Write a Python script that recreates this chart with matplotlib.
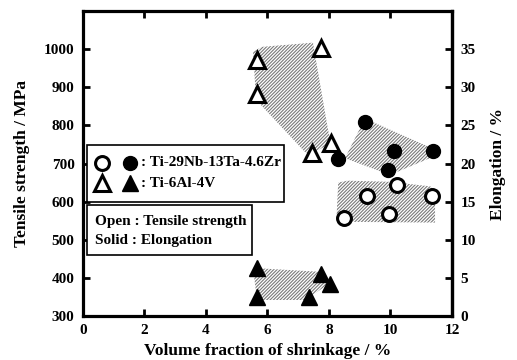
import numpy as np
import matplotlib
matplotlib.use("Agg")
import matplotlib.pyplot as plt
from matplotlib.patches import Polygon, Rectangle

plt.rcParams['font.family'] = ['Liberation Serif', 'DejaVu Serif']
plt.rcParams['font.weight'] = 'bold'
plt.rcParams['hatch.linewidth'] = 0.8

# Ti-29Nb-13Ta-4.6Zr
tntz_vf_ts = [8.5, 9.25, 9.95, 10.2, 11.35]
tntz_ts = [557, 615, 568, 644, 615]
tntz_vf_el = [8.3, 9.17, 9.92, 10.1, 11.38]
tntz_el = [20.6, 25.4, 19.1, 21.6, 21.6]

# Ti-6Al-4V
ti64_vf_ts = [5.66, 5.66, 7.45, 7.74, 8.06]
ti64_ts = [972, 883, 728, 1003, 754]
ti64_vf_el = [5.66, 5.66, 7.35, 7.74, 8.03]
ti64_el = [6.3, 2.5, 2.5, 5.5, 4.2]

# shaded scatter bands (volume fraction, value)
band_ti64_ts = [(5.53, 993), (5.82, 1006), (7.48, 1017), (7.97, 788), (8.07, 754),
                (7.38, 723), (7.22, 730), (5.63, 867)]
band_tntz_ts = [(8.3, 650), (8.6, 655), (10.0, 652), (11.3, 640), (11.45, 625),
                (11.45, 545), (8.5, 547), (8.25, 565)]
band_tntz_el = [(9.17, 25.9), (11.35, 22.0), (11.28, 20.7), (9.98, 18.5), (8.52, 20.7)]
band_ti64_el = [(5.53, 6.3), (7.71, 5.8), (8.03, 4.3), (7.22, 2.1), (5.66, 2.1)]


def el_to_ts(e):
    return np.asarray(e) * 20 + 300


def ts_to_el(t):
    return (np.asarray(t) - 300) / 20


fig = plt.figure(figsize=(5.17, 3.6), dpi=100)
ax = fig.add_axes([0.1605, 0.1222, 0.7137, 0.8472])

def band(pts, elong=False):
    xy = np.array(pts, dtype=float)
    if elong:
        xy[:, 1] = el_to_ts(xy[:, 1])
    ax.add_patch(Polygon(xy, closed=True, facecolor='white', edgecolor='#7a7a7a',
                         hatch='//////////', linewidth=0, zorder=1))

band(band_ti64_ts)
band(band_tntz_ts)
band(band_tntz_el, elong=True)
band(band_ti64_el, elong=True)

ms = 10
mew = 2.2
ax.plot(tntz_vf_ts, tntz_ts, 'o', ms=ms, mfc='white', mec='black', mew=mew, ls='none', zorder=3)
ax.plot(tntz_vf_el, el_to_ts(tntz_el), 'o', ms=ms, mfc='black', mec='black', ls='none', zorder=3)
ax.plot(ti64_vf_ts, ti64_ts, '^', ms=11, mfc='white', mec='black', mew=mew, ls='none', zorder=3)
ax.plot(ti64_vf_el, el_to_ts(ti64_el), '^', ms=11, mfc='black', mec='black', ls='none', zorder=3)

ax.set_xlim(0, 12)
ax.set_ylim(300, 1100)
ax.set_xticks([0, 2, 4, 6, 8, 10, 12])
ax.set_yticks([300, 400, 500, 600, 700, 800, 900, 1000])
ax.tick_params(direction='in', length=5, width=2, labelsize=11, top=True, pad=6)
for s in ax.spines.values():
    s.set_linewidth(2.3)

ax2 = ax.secondary_yaxis('right', functions=(ts_to_el, el_to_ts))
ax2.set_yticks([0, 5, 10, 15, 20, 25, 30, 35])
ax2.tick_params(direction='in', length=5, width=2, labelsize=11, pad=6)
ax2.spines['right'].set_linewidth(2.3)

ax.set_xlabel('Volume fraction of shrinkage / %', fontsize=12.5, fontweight='bold', labelpad=4)
ax.set_ylabel('Tensile strength / MPa', fontsize=12.5, fontweight='bold', labelpad=10)
ax2.set_ylabel('Elongation / %', fontsize=12.5, fontweight='bold', labelpad=10)

# key boxes
tr = ax.transAxes
ax.add_patch(Rectangle((0.011, 0.374), 0.534, 0.187, transform=tr, fill=True,
                       facecolor='white', edgecolor='black', lw=1.2, zorder=4))
ax.add_patch(Rectangle((0.011, 0.200), 0.447, 0.164, transform=tr, fill=True,
                       facecolor='white', edgecolor='black', lw=1.2, zorder=4))
ax.plot([0.0515], [0.502], 'o', ms=ms, mfc='white', mec='black', mew=mew, transform=tr, zorder=5)
ax.plot([0.127], [0.502], 'o', ms=ms, mfc='black', mec='black', transform=tr, zorder=5)
ax.plot([0.0515], [0.436], '^', ms=11, mfc='white', mec='black', mew=mew, transform=tr, zorder=5)
ax.plot([0.127], [0.436], '^', ms=11, mfc='black', mec='black', transform=tr, zorder=5)
ax.text(0.158, 0.502, ': Ti-29Nb-13Ta-4.6Zr', transform=tr, fontsize=11, va='center', zorder=5)
ax.text(0.158, 0.436, ': Ti-6Al-4V', transform=tr, fontsize=11, va='center', zorder=5)
ax.text(0.0325, 0.311, 'Open : Tensile strength', transform=tr, fontsize=11, va='center', zorder=5)
ax.text(0.0325, 0.249, 'Solid : Elongation', transform=tr, fontsize=11, va='center', zorder=5)

fig.savefig('out.png', dpi=100)
